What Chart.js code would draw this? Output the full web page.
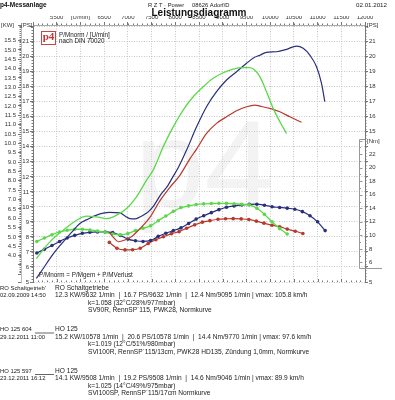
<!DOCTYPE html>
<html>
<head>
<meta charset="utf-8">
<script src="https://cdn.jsdelivr.net/npm/chart.js@4"></script>
<style>
html, body { margin: 0; padding: 0; background: #fff; }
</style>
</head>
<body>
<canvas id="chart" width="395" height="400"></canvas>
<script>
// Leistung (PS) ueber Drehzahl
const bluePowerRpm = [5070,5216,5356,5497,5637,5813,5989,6165,6340,6480,6621,6832,6940,7043,7150,7253,7340,7429,7540,7690,7840,7940,8061,8238,8449,8659,8870,9081,9292,9503,9640,9783,9924,10135,10345,10556,10697,10837,10978,11083,11153];
const bluePowerPs = [5.24,5.9,6.56,7.15,7.67,8.3,8.89,9.2,9.45,9.58,9.63,9.6,9.4,9.22,9.2,9.33,9.48,9.67,10.05,10.8,11.4,11.95,12.6,13.78,15.33,16.67,17.67,18.45,19.0,19.56,19.9,20.1,20.29,20.33,20.49,20.71,20.56,20.1,19.33,18.22,17.0];

const greenPowerRpm = [5070,5216,5356,5497,5637,5778,5919,6130,6340,6551,6762,6973,7183,7394,7534,7640,7745,7956,8166,8377,8588,8799,9010,9221,9432,9572,9678,9783,9924,10064,10205,10345];
const greenPowerPs = [6.55,7.15,7.67,8.1,8.45,8.8,9.11,9.38,9.33,9.22,9.45,9.9,10.67,11.78,12.45,13.2,14.0,15.33,16.45,17.33,18.0,18.56,18.93,19.18,19.27,19.27,19.1,18.67,17.67,16.56,15.67,14.89];

const redPowerRpm = [6610,6700,6800,6940,7090,7240,7360,7464,7675,7886,8097,8307,8449,8659,8870,9081,9292,9503,9678,9783,9994,10205,10415,10661];
const redPowerPs = [8.3,7.95,7.68,7.8,8.05,8.5,8.9,9.3,10.4,11.3,12.1,13.2,13.85,14.89,15.56,16.0,16.4,16.67,16.78,16.71,16.56,16.33,16.0,15.63];

// Drehmoment (Nm) ueber Drehzahl
const blueTorqueRpm = [5080,5240,5400,5560,5720,5880,6040,6200,6360,6520,6680,6840,7000,7160,7320,7480,7640,7800,7960,8120,8280,8440,8600,8760,8920,9080,9240,9400,9560,9720,9880,10040,10200,10360,10520,10680,10840,11000,11160];
const blueTorqueNm = [7.4,7.95,8.5,9.1,9.6,10.0,10.3,10.45,10.5,10.5,10.4,10.0,9.45,9.2,9.1,9.25,9.85,10.3,10.7,11.1,11.75,12.4,12.9,13.35,13.8,14.15,14.35,14.5,14.57,14.6,14.45,14.22,14.12,14.02,13.85,13.5,12.9,12.0,10.7];

const greenTorqueRpm = [5080,5240,5400,5560,5720,5880,6040,6200,6360,6520,6680,6840,7000,7160,7320,7480,7640,7800,7960,8120,8280,8440,8600,8760,8920,9080,9240,9400,9560,9720,9880,10040,10200,10360];
const greenTorqueNm = [9.1,9.6,10.1,10.5,10.75,10.9,10.9,10.8,10.65,10.45,10.2,10.1,10.25,10.7,11.05,11.4,12.15,12.85,13.55,14.1,14.35,14.55,14.65,14.7,14.73,14.72,14.67,14.6,14.5,14.0,13.1,12.0,11.0,10.2];

const redTorqueRpm = [6610,6770,6940,7100,7260,7430,7590,7750,7920,8080,8240,8410,8570,8730,8900,9060,9220,9390,9550,9710,9870,10040,10200,10360,10530,10690];
const redTorqueNm = [8.96,8.1,7.85,7.88,8.1,8.8,9.35,9.8,10.25,10.55,11.05,11.55,11.95,12.17,12.38,12.45,12.47,12.43,12.35,12.1,11.8,11.5,11.28,10.92,10.6,10.27];

// Achsenbeschriftungen
const nmTicks = [6, 8, 10, 12, 14, 16, 18, 20, 22];

// Texte unter dem Diagramm
const runs = [
  ["RO Schaltgetrieb'", 'RO Schaltgetriebe', '02.09.2009 14:50',
   '12.3 KW/9632 1/min  |  16.7 PS/9632 1/min  |  12.4 Nm/9095 1/min | vmax: 105.8 km/h',
   'k=1.058 (32°C/28%/977mbar)', 'SV90R, RennSP`115, PWK28, Normkurve'],
  ['HO 125 604', 'HO 125', '29.12.2011 11:00',
   '15.2 KW/10578 1/min  |  20.6 PS/10578 1/min  |  14.4 Nm/9770 1/min | vmax: 97.6 km/h',
   'k=1.019 (12°C/51%/980mbar)', 'SVI100R, RennSP`115/13cm, PWK28 HD135, Zündung 1,0mm, Normkurve'],
  ['HO 125 597', 'HO 125', '23.12.2011 16:12',
   '14.1 KW/9508 1/min  |  19.2 PS/9508 1/min  |  14.6 Nm/9046 1/min | vmax: 89.9 km/h',
   'k=1.025 (14°C/49%/975mbar)', 'SVI100SP, RennSP`115/17cm Normkurve']
];

const F = "'Liberation Sans', Arial, sans-serif";
const BLUE = '#2a2f7c';
const RED = '#b8382c';
const GREEN = '#5bd94a';
const GRID = '#c6c6c6';

function pts(xs, ys) {
  return xs.map((x, i) => ({ x: x, y: ys[i] }));
}

function txt(ctx, s, x, y, font, color, align) {
  ctx.font = font;
  ctx.fillStyle = color || '#222';
  ctx.textAlign = align || 'left';
  ctx.textBaseline = 'middle';
  ctx.fillText(s, x, y);
}

const decor = {
  id: 'decor',
  beforeDraw(chart) {
    const ctx = chart.ctx;
    ctx.save();
    ctx.fillStyle = '#fff';
    ctx.fillRect(0, 0, chart.width, chart.height);
    // Wasserzeichen
    ctx.fillStyle = '#f3f3f3';
    ctx.font = '125px ' + F;
    ctx.textBaseline = 'alphabetic';
    ctx.fillText('p4', 135, 207);
    ctx.restore();
  },
  afterDraw(chart) {
    const ctx = chart.ctx;
    const a = chart.chartArea;
    const x = chart.scales.x, kw = chart.scales.kw, ps = chart.scales.ps, nm = chart.scales.nm;
    ctx.save();

    // Kopfzeile
    txt(ctx, 'p4-Messanlage', 0, 5, 'bold 6.5px ' + F, '#111');
    txt(ctx, 'R Z T · Power     08626 Adorf/D', 148, 5, '5.8px ' + F, '#222');
    txt(ctx, '02.01.2012', 387, 5, '6.2px ' + F, '#222', 'right');
    txt(ctx, 'Leistungsdiagramm', 199, 13, 'bold 10px ' + F, '#111', 'center');
    txt(ctx, '[KW]', 1, 25, '6px ' + F, '#333');
    txt(ctx, '[PS]', 21, 25, '6px ' + F, '#333');
    txt(ctx, '[PS]', a.right + 2, 25, '6px ' + F, '#333');

    // Zwischenstriche
    ctx.strokeStyle = '#777';
    ctx.lineWidth = 1;
    ctx.beginPath();
    for (let v = 5000; v <= 12000; v += 100) {
      const px = Math.round(x.getPixelForValue(v)) + 0.5;
      ctx.moveTo(px, a.top); ctx.lineTo(px, a.top - 1.5);
      ctx.moveTo(px, a.bottom); ctx.lineTo(px, a.bottom - (v % 500 === 0 ? 3 : 1.5));
    }
    for (let v = 3; v <= 16.3; v += 0.1) {
      const py = Math.round(kw.getPixelForValue(v)) + 0.5;
      ctx.moveTo(kw.right, py); ctx.lineTo(kw.right - 1.5, py);
    }
    for (let v = 5; v <= 22; v += 0.2) {
      const py = Math.round(ps.getPixelForValue(v)) + 0.5;
      ctx.moveTo(a.left, py); ctx.lineTo(a.left - 1.5, py);
      ctx.moveTo(a.right, py); ctx.lineTo(a.right + 1.5, py);
    }
    ctx.stroke();

    // Nm-Skala im Diagramm
    const yTop = Math.round(nm.getPixelForValue(24.2)) + 0.5;
    const yBot = Math.round(nm.getPixelForValue(5.2)) + 0.5;
    const bx = a.right - 5.5;
    ctx.strokeStyle = '#999';
    ctx.beginPath();
    ctx.moveTo(a.right, yTop); ctx.lineTo(bx, yTop); ctx.lineTo(bx, yBot); ctx.lineTo(a.right + 17, yBot);
    for (let v = 6; v <= 24; v += 1) {
      const py = Math.round(nm.getPixelForValue(v)) + 0.5;
      ctx.moveTo(bx, py); ctx.lineTo(bx + (v % 2 === 0 ? 3 : 1.5), py);
    }
    ctx.stroke();
    txt(ctx, '[Nm]', a.right + 2, yTop + 2, '6px ' + F, '#333');
    nmTicks.forEach(v => txt(ctx, String(v), a.right + 4, nm.getPixelForValue(v), '6px ' + F, '#333'));

    // Logo und Hinweise
    ctx.fillStyle = '#fff';
    ctx.fillRect(41, 31, 15, 14);
    ctx.strokeStyle = '#c44';
    ctx.strokeRect(41.5, 31.5, 14, 13);
    txt(ctx, 'p4', 48.5, 37, 'bold 11px "Liberation Serif", serif', '#c33', 'center');
    txt(ctx, 'P/Mnorm / [U/min]', 59, 35, '6.3px ' + F, '#222');
    txt(ctx, 'nach DIN 70020', 59, 41.5, '6.3px ' + F, '#222');
    txt(ctx, 'P/Mnorm = P/Mgem + P/MVerlust', 39, 275, '6.3px ' + F, '#222');

    // Messlaeufe
    const top = [288, 329.5, 371];
    const f = '6.6px ' + F;
    const fl = '5.9px ' + F;
    runs.forEach((r, i) => {
      const y = top[i];
      txt(ctx, r[0], 0, y, fl, '#222');
      txt(ctx, r[1], 55, y, f, '#222');
      if (i > 0) {
        ctx.strokeStyle = '#666';
        ctx.beginPath(); ctx.moveTo(35, y + 3.5); ctx.lineTo(54, y + 3.5); ctx.stroke();
      }
      txt(ctx, r[2], 0, y + 7.5, fl, '#222');
      txt(ctx, r[3], 55, y + 7.5, f, '#222');
      txt(ctx, r[4], 88, y + 15, f, '#222');
      txt(ctx, r[5], 88, y + 22.5, f, '#222');
    });
    ctx.restore();
  }
};

const tickFont = { size: 6, family: F };

new Chart(document.getElementById('chart'), {
  type: 'line',
  data: {
    datasets: [
      { data: pts(greenPowerRpm, greenPowerPs), yAxisID: 'ps', borderColor: GREEN, borderWidth: 1.3, pointRadius: 0 },
      { data: pts(bluePowerRpm, bluePowerPs), yAxisID: 'ps', borderColor: BLUE, borderWidth: 1.2, pointRadius: 0 },
      { data: pts(redPowerRpm, redPowerPs), yAxisID: 'ps', borderColor: RED, borderWidth: 1.2, pointRadius: 0 },
      { data: pts(greenTorqueRpm, greenTorqueNm), yAxisID: 'nm', borderColor: GREEN, backgroundColor: GREEN, borderWidth: 1.3, pointRadius: 1.8, pointBorderWidth: 0 },
      { data: pts(blueTorqueRpm, blueTorqueNm), yAxisID: 'nm', borderColor: BLUE, backgroundColor: BLUE, borderWidth: 1.2, pointRadius: 1.8, pointBorderWidth: 0 },
      { data: pts(redTorqueRpm, redTorqueNm), yAxisID: 'nm', borderColor: RED, backgroundColor: RED, borderWidth: 1.2, pointRadius: 1.8, pointBorderWidth: 0 }
    ]
  },
  options: {
    responsive: false,
    devicePixelRatio: 1,
    animation: false,
    events: [],
    cubicInterpolationMode: 'monotone',
    layout: { padding: { top: 16, bottom: 118, left: 0, right: 0 } },
    plugins: { legend: { display: false }, tooltip: { enabled: false } },
    scales: {
      x: {
        type: 'linear', position: 'top', min: 5000, max: 12000,
        afterFit: s => { s.height = 9; },
        ticks: {
          stepSize: 500, autoSkip: false, maxRotation: 0, padding: 1, font: tickFont, color: '#333',
          callback: v => v === 5000 ? '' : (v === 6000 ? '[U/min]' : String(v))
        },
        grid: { color: GRID, tickLength: 3, tickColor: '#777' },
        border: { dash: [1, 1.5], color: '#aaa' }
      },
      kw: {
        type: 'linear', position: 'left', weight: 1, min: 2.59, max: 16.33,
        afterFit: s => { s.width = 21; },
        ticks: {
          stepSize: 0.5, autoSkip: false, padding: 2, font: tickFont, color: '#333',
          callback: v => (v >= 4 && v <= 15.5) ? v.toFixed(1) : ''
        },
        grid: { drawOnChartArea: false, tickLength: 3, tickColor: '#777' },
        border: { color: '#bbb' }
      },
      ps: {
        type: 'linear', position: 'left', weight: 0, min: 5, max: 22.11,
        afterFit: s => { s.width = 12; },
        ticks: {
          stepSize: 1, includeBounds: false, autoSkip: false, padding: 1, font: tickFont, color: '#333',
          callback: v => (v >= 5 && v <= 21) ? String(v) : ''
        },
        grid: { color: GRID, tickLength: 3, tickColor: '#777' },
        border: { dash: [1, 1.5], color: '#777' }
      },
      psR: {
        type: 'linear', position: 'right', min: 5, max: 22.11,
        afterFit: s => { s.width = 30; },
        ticks: {
          stepSize: 1, includeBounds: false, autoSkip: false, padding: 1, font: tickFont, color: '#333',
          callback: v => (v === 5 || (v >= 15 && v <= 21)) ? String(v) : ''
        },
        grid: { drawOnChartArea: false, tickLength: 3, tickColor: '#777' },
        border: { color: '#777' }
      },
      nm: {
        type: 'linear', position: 'right', display: false, min: 3.11, max: 41.07
      }
    }
  },
  plugins: [decor]
});
</script>
</body>
</html>
